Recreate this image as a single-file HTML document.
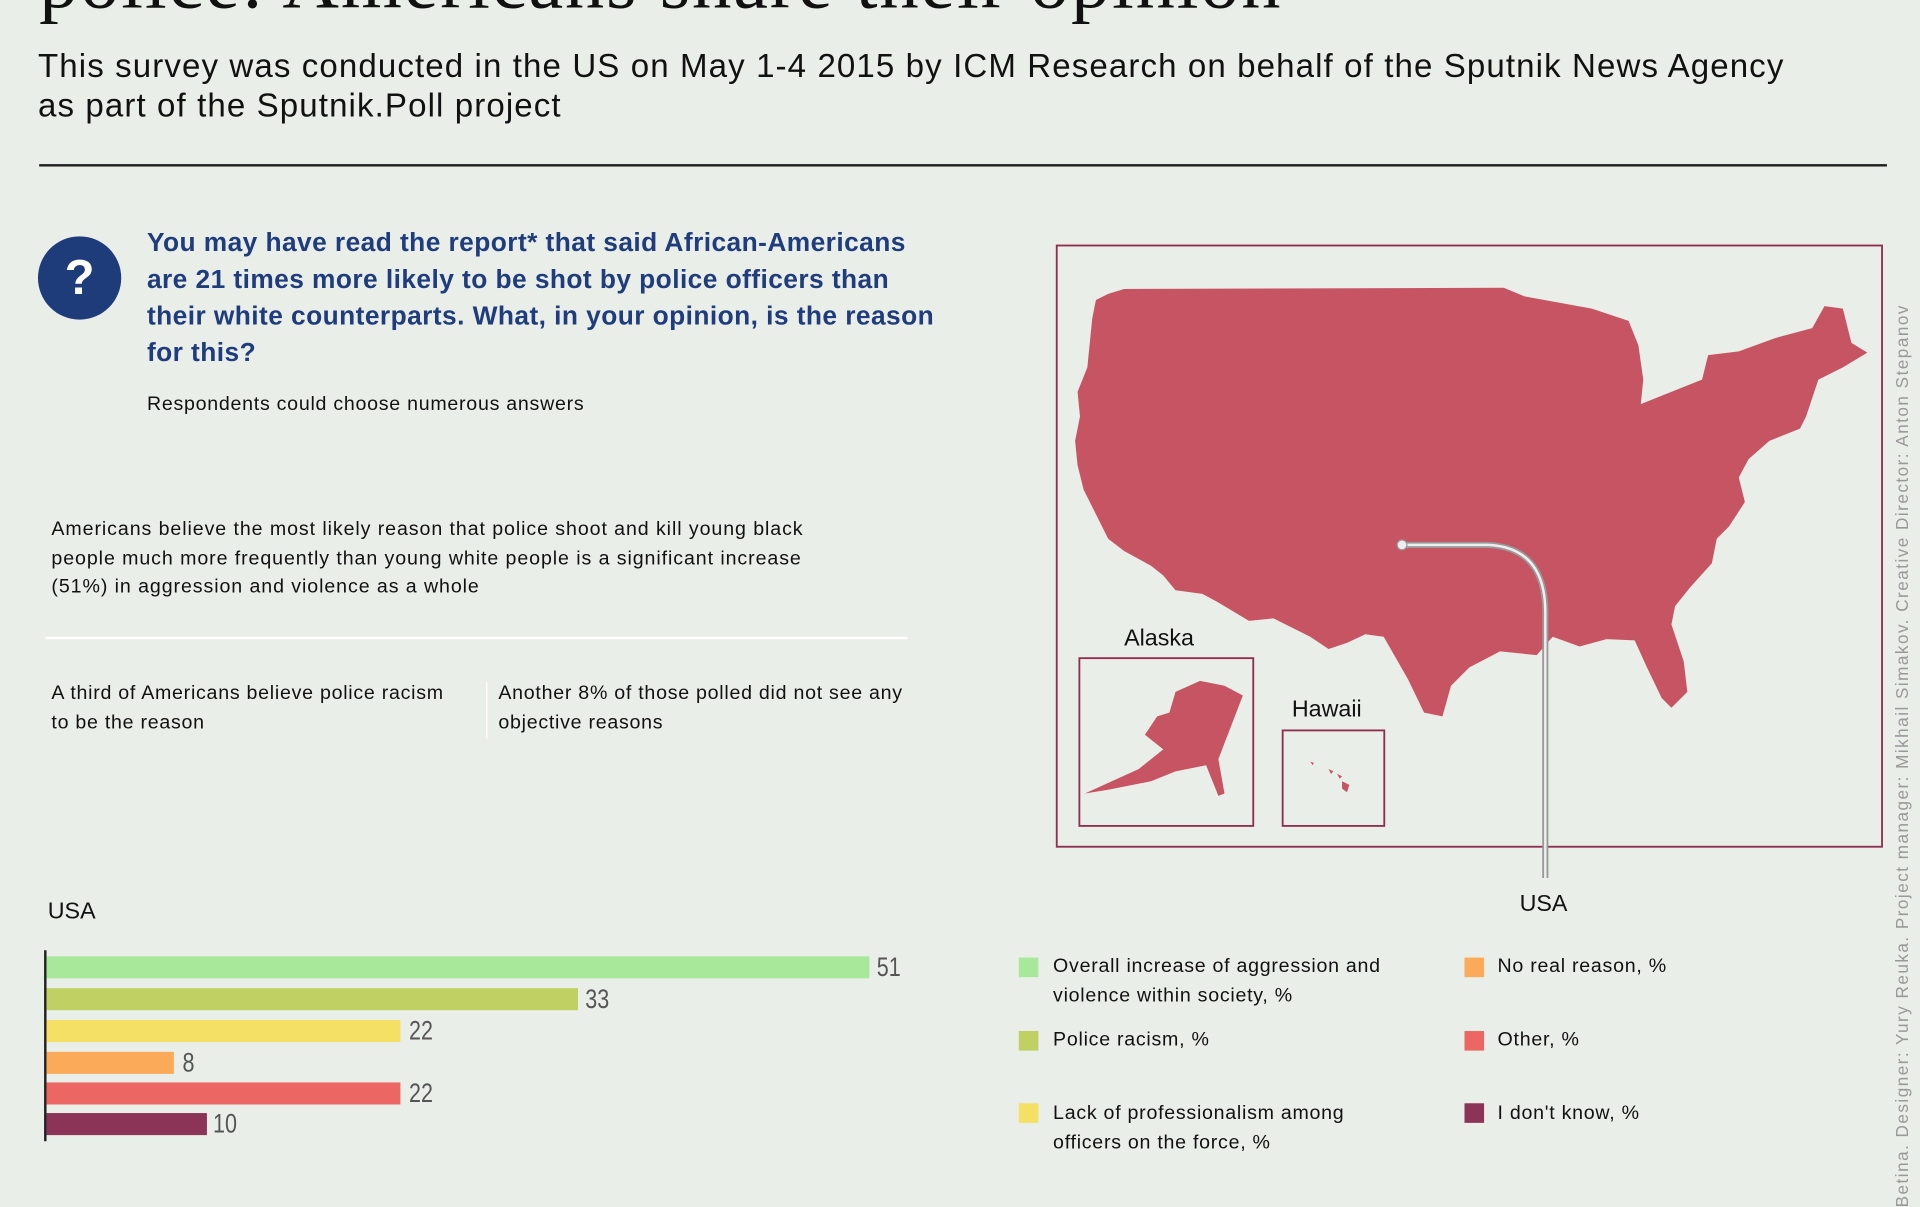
<!DOCTYPE html>
<html><head><meta charset="utf-8"><style>
html,body{margin:0;padding:0;width:1920px;height:1207px;overflow:hidden;background:#eaeee8;}
#s{position:absolute;left:0;top:0;width:1568px;height:986px;transform:scale(1.22449);transform-origin:0 0;font-family:"Liberation Sans",sans-serif;color:#111;}
.a{position:absolute;white-space:nowrap;}
.sm{font-size:16px;line-height:23.5px;letter-spacing:0.6px;}
.q{color:#1f3c7c;font-weight:bold;font-size:21.5px;line-height:30px;letter-spacing:0.35px;}
.n{font-family:"Liberation Sans Narrow","Liberation Sans",sans-serif;font-size:22px;color:#555;transform:scaleX(0.8);transform-origin:0 0;}
.bar{position:absolute;left:38px;height:18px;}
.sq{position:absolute;width:16px;height:16px;}
</style></head><body><div id="s">
<div class="a" style="left:32px;top:-52px;font-family:'Liberation Serif',serif;font-size:64px;letter-spacing:1.5px;">police: Americans share their opinion</div>
<div class="a" style="left:31px;top:38px;font-size:27px;line-height:32px;letter-spacing:0.9px;">This survey was conducted in the US on May 1-4 2015 by ICM Research on behalf of the Sputnik News Agency<br>as part of the Sputnik.Poll project</div>
<div class="a" style="left:32px;top:134px;width:1509px;height:2px;background:#222;"></div>
<div class="a" style="left:31px;top:193px;width:68px;height:68px;border-radius:50%;background:#1e3c7a;color:#fff;font-size:40px;font-weight:bold;text-align:center;line-height:68px;">?</div>
<div class="a q" style="left:120px;top:183px;">You may have read the report* that said African-Americans<br>are 21 times more likely to be shot by police officers than<br>their white counterparts. What, in your opinion, is the reason<br>for this?</div>
<div class="a sm" style="left:120px;top:319px;">Respondents could choose numerous answers</div>
<div class="a sm" style="left:42px;top:421px;letter-spacing:0.75px;">Americans believe the most likely reason that police shoot and kill young black<br>people much more frequently than young white people is a significant increase<br>(51%) in aggression and violence as a whole</div>
<div class="a" style="left:37px;top:520px;width:704px;height:2px;background:#fff;"></div>
<div class="a sm" style="left:42px;top:555px;">A third of Americans believe police racism<br>to be the reason</div>
<div class="a" style="left:397px;top:557px;width:1px;height:46px;background:#fff;"></div>
<div class="a sm" style="left:407px;top:555px;">Another 8% of those polled did not see any<br>objective reasons</div>

<svg class="a" style="left:0;top:0;" width="1568" height="986">
<rect x="863" y="200.5" width="674" height="491" fill="none" stroke="#8e2e50" stroke-width="1.5"/>
<path fill="#c75463" d="M895,245 L905,240 L918,236 L1228,235 L1245,242 L1300,252 L1330,262 L1338,282 L1342,310 L1340,330 L1345,328 L1390,310 L1395,290 L1420,287 L1450,276 L1480,268 L1490,250 L1505,252 L1512,280 L1525,288 L1505,300 L1485,310 L1475,340 L1470,350 L1445,360 L1428,375 L1420,390 L1425,410 L1412,430 L1402,440 L1398,460 L1380,480 L1368,495 L1365,510 L1375,540 L1378,565 L1365,578 L1357,570 L1345,545 L1335,523 L1312,522 L1290,528 L1268,520 L1255,535 L1225,532 L1200,545 L1185,560 L1178,585 L1163,582 L1150,555 L1130,520 L1115,518 L1100,525 L1085,530 L1070,520 L1050,510 L1040,505 L1020,507 L995,492 L982,485 L960,482 L950,470 L940,462 L918,450 L905,440 L895,420 L885,400 L880,380 L878,360 L882,340 L880,320 L888,300 L890,280 L892,260 Z"/>
<path fill="#c75463" d="M960,565 L980,556 L1000,560 L1015,568 L995,620 L1000,648 L995,650 L985,625 L960,630 L940,638 L905,645 L886,648 L930,628 L950,612 L935,600 L945,585 L955,582 Z"/>
<path fill="#c75463" d="M1070,622 l3,1 l-1,2 z M1085,628 l4,2 l-2,2 z M1092,632 l4,2 l-2,2z M1096,638 l6,3 l-2,6 l-4,-3 z"/>
<rect x="881.5" y="537.5" width="142" height="137" fill="none" stroke="#8e2e50" stroke-width="1.5"/>
<rect x="1047.5" y="596.5" width="83" height="78" fill="none" stroke="#8e2e50" stroke-width="1.5"/>
<path d="M1145,445 L1215,445 Q1262,447 1262,500 L1262,717" fill="none" stroke="#999" stroke-width="5"/>
<path d="M1145,445 L1215,445 Q1262,447 1262,500 L1262,717" fill="none" stroke="#eee" stroke-width="2"/>
<circle cx="1145" cy="445" r="4" fill="#eee" stroke="#999" stroke-width="1"/>
<line x1="37" y1="776" x2="37" y2="932" stroke="#222" stroke-width="2"/>
</svg>
<div class="a" style="left:918px;top:511px;font-size:19px;">Alaska</div>
<div class="a" style="left:1055px;top:569px;font-size:19px;">Hawaii</div>
<div class="a" style="left:1241px;top:728px;font-size:19px;">USA</div>
<div class="a" style="left:39px;top:734px;font-size:19px;">USA</div>

<div class="bar" style="top:781px;width:672px;background:#a8e89a;"></div>
<div class="bar" style="top:807px;width:434px;background:#c0d062;"></div>
<div class="bar" style="top:833px;width:289px;background:#f3e064;"></div>
<div class="bar" style="top:859px;width:104px;background:#fbaa5a;"></div>
<div class="bar" style="top:884px;width:289px;background:#ec6663;"></div>
<div class="bar" style="top:909px;width:131px;background:#8c3358;"></div>
<div class="a n" style="left:716px;top:777px;">51</div>
<div class="a n" style="left:478px;top:803px;">33</div>
<div class="a n" style="left:334px;top:829px;">22</div>
<div class="a n" style="left:149px;top:855px;">8</div>
<div class="a n" style="left:334px;top:880px;">22</div>
<div class="a n" style="left:174px;top:905px;">10</div>

<div class="sq" style="left:832px;top:782px;background:#a8e89a;"></div>
<div class="sq" style="left:832px;top:842px;background:#c0d062;"></div>
<div class="sq" style="left:832px;top:901px;background:#f3e064;"></div>
<div class="sq" style="left:1196px;top:782px;background:#fbaa5a;"></div>
<div class="sq" style="left:1196px;top:842px;background:#ec6663;"></div>
<div class="sq" style="left:1196px;top:901px;background:#8c3358;"></div>
<div class="a sm" style="left:860px;top:778px;">Overall increase of aggression and<br>violence within society, %</div>
<div class="a sm" style="left:860px;top:838px;">Police racism, %</div>
<div class="a sm" style="left:860px;top:898px;">Lack of professionalism among<br>officers on the force, %</div>
<div class="a sm" style="left:1223px;top:778px;">No real reason, %</div>
<div class="a sm" style="left:1223px;top:838px;">Other, %</div>
<div class="a sm" style="left:1223px;top:898px;">I don't know, %</div>

<div class="a" style="left:1545px;top:986px;transform:rotate(-90deg);transform-origin:0 0;font-size:14px;letter-spacing:1.2px;color:#999;">Betina. Designer: Yury Reuka. Project manager: Mikhail Simakov. Creative Director: Anton Stepanov</div>
</div></body></html>
